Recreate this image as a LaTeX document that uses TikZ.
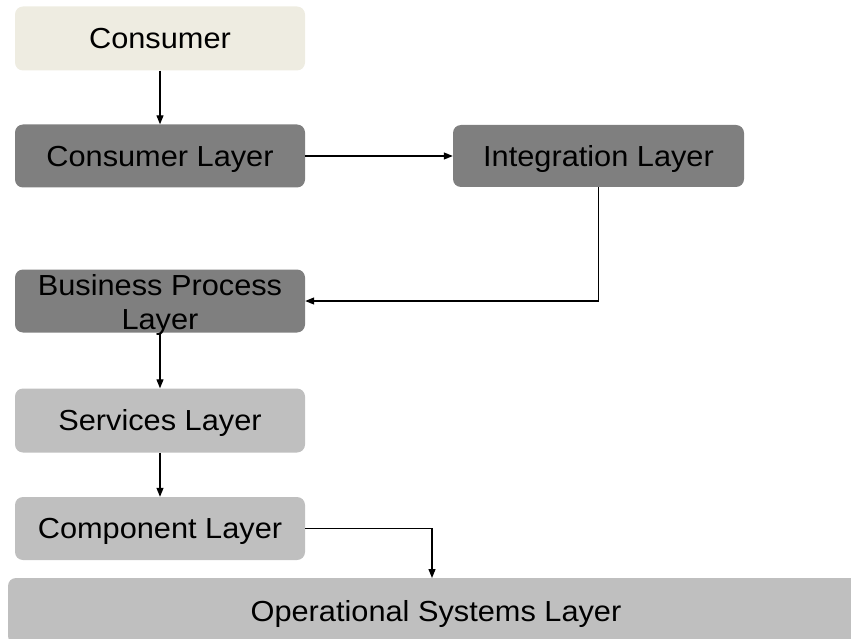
\documentclass[tikz,border=0pt]{standalone}
\usepackage{fontspec}
\setmainfont{Liberation Sans}[FakeStretch=1.06]
\usetikzlibrary{arrows.meta}
\definecolor{beige}{HTML}{EEECE1}
\definecolor{darkbox}{HTML}{7F7F7F}
\definecolor{lightbox}{HTML}{BFBFBF}
\begin{document}
\begin{tikzpicture}[x=1pt,y=-1pt,
  layer/.style={rounded corners=8pt, inner sep=0pt, text=black,
    font=\fontsize{29}{33}\selectfont, align=center,
    text height=20.8pt, text depth=0pt},
  link/.style={line width=1.2pt, -{Triangle[length=9pt,width=7pt]}}]
\useasboundingbox (0,0) rectangle (851,639);
% boxes: centre, width, height
\node[layer, fill=beige, minimum width=290pt, minimum height=64pt] (cons) at (160,38.5) {Consumer};
\node[layer, fill=darkbox, minimum width=290pt, minimum height=63pt] (cl) at (160,156) {Consumer Layer};
\node[layer, fill=darkbox, minimum width=291pt, minimum height=62pt] (il) at (598.5,156) {Integration Layer};
\node[layer, fill=darkbox, minimum width=290pt, minimum height=63pt, text height=57.8pt] (bp) at (160,301) {Business Process\\[1.5pt]Layer};
\node[layer, fill=lightbox, minimum width=290pt, minimum height=64pt] (sl) at (160,420.5) {Services Layer};
\node[layer, fill=lightbox, minimum width=290pt, minimum height=63pt] (cp) at (160,528.5) {Component Layer};
\node[layer, fill=lightbox, minimum width=856pt, minimum height=66pt] (os) at (436,611) {Operational Systems Layer};
% connectors
\draw[link] (cons) -- (cl);
\draw[link] (cl) -- (il);
\draw[link] (il.south) |- (bp.east);
\draw[link] (bp) -- (sl);
\draw[link] (sl) -- (cp);
\coordinate (drop) at (432,578);
\draw[link] (cp.east) -| (drop);
\end{tikzpicture}
\end{document}
